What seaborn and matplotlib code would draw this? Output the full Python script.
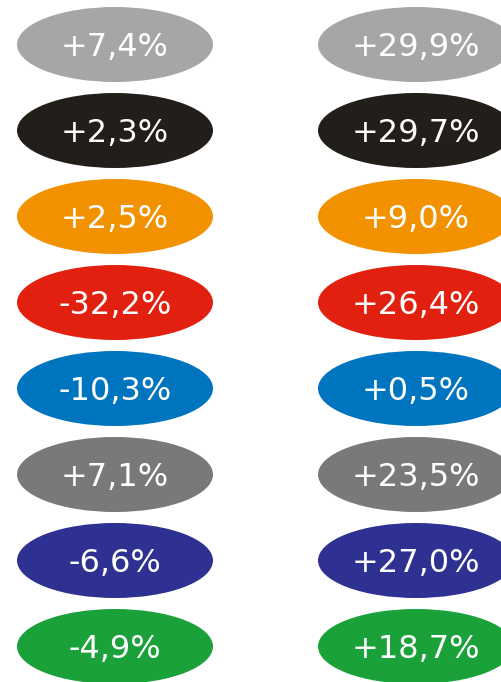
import numpy as np
import seaborn as sns
import matplotlib.pyplot as plt
from matplotlib.patches import Ellipse

sns.set_theme(style="white")
plt.rcParams['font.family'] = ['DejaVu Sans']

# one colour per row (category), two columns of percentage changes
row_colors = ['#a5a7a6', '#221e1a', '#f39200', '#e2200f',
              '#0075bf', '#77797a', '#2e3192', '#1ba13a']
left_values = ['+7,4%', '+2,3%', '+2,5%', '-32,2%',
               '-10,3%', '+7,1%', '-6,6%', '-4,9%']
right_values = ['+29,9%', '+29,7%', '+9,0%', '+26,4%',
                '+0,5%', '+23,5%', '+27,0%', '+18,7%']

fig = plt.figure(figsize=(5.01, 6.82), dpi=100)
ax = fig.add_axes([0, 0, 1, 1])

# data units: one column step = 301 px, one row step = 86 px
ax.set_xlim(-115 / 301, (501 - 115) / 301)
ax.set_ylim((682 - 44.5) / 86, -44.5 / 86)

for col, values in enumerate([left_values, right_values]):
    for row, (label, color) in enumerate(zip(values, row_colors)):
        ax.add_patch(Ellipse((col, row), 196 / 301, 75 / 86,
                             facecolor=color, edgecolor='none'))
        ax.text(col, row + 0.13, label, color='white', fontsize=23,
                ha='center', va='baseline')

ax.axis('off')
fig.savefig('out.png', dpi=100, facecolor='white')
